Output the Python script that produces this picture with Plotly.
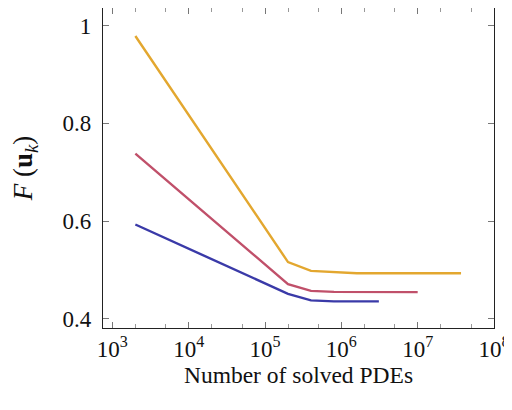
import plotly.graph_objects as go

# Data
x_orange = [2e3, 2e5, 4e5, 8e5, 1.6e6, 3.7e7]
y_orange = [0.979, 0.516, 0.498, 0.495, 0.493, 0.493]
x_red = [2e3, 2e5, 4e5, 8e5, 1e7]
y_red = [0.738, 0.471, 0.457, 0.455, 0.4545]
x_blue = [2e3, 2e5, 4e5, 8e5, 3.1e6]
y_blue = [0.593, 0.451, 0.4375, 0.4355, 0.4355]

x_tickvals = [1e3, 1e4, 1e5, 1e6, 1e7, 1e8]
x_ticktext = ["10<sup>3</sup>", "10<sup>4</sup>", "10<sup>5</sup>", "10<sup>6</sup>", "10<sup>7</sup>", "10<sup>8</sup>"]
y_tickvals = [0.4, 0.6, 0.8, 1.0]
y_ticktext = ["0.4", "0.6", "0.8", "1"]

FONT = "Liberation Serif"

fig = go.Figure()
for xs, ys, col in [(x_orange, y_orange, "#E3A72F"),
                    (x_red, y_red, "#C0506A"),
                    (x_blue, y_blue, "#3A3AA8")]:
    fig.add_trace(go.Scatter(x=xs, y=ys, mode="lines",
                             line=dict(color=col, width=2.4), showlegend=False))

fig.update_layout(
    width=504, height=384,
    margin=dict(l=95, r=18, t=0, b=64),
    plot_bgcolor="white", paper_bgcolor="white",
    font=dict(family=FONT, size=23, color="#111"),
)
fig.update_xaxes(
    type="log", range=[2.877, 8.0], automargin=False,
    tickvals=x_tickvals, ticktext=x_ticktext,
    ticklabeloverflow="allow",
    ticks="inside", ticklen=6, tickcolor="#777", tickwidth=1,
    mirror="allticks", showline=True, linecolor="#222", linewidth=1.2,
    showgrid=False, zeroline=False,
    minor=dict(ticks="inside", ticklen=3.5, tickcolor="#999", showgrid=False),
    title=dict(text="Number of solved PDEs", font=dict(size=23.5), standoff=2),
    tickfont=dict(size=23),
)
fig.update_yaxes(
    range=[0.381, 1.0364], automargin=False,
    tickvals=y_tickvals, ticktext=y_ticktext,
    ticks="inside", ticklen=6, tickcolor="#777", tickwidth=1,
    ticklabelstandoff=6,
    mirror="allticks", showline=True, linecolor="#222", linewidth=1.2,
    showgrid=False, zeroline=False,
    title=dict(text="<i>F</i> (<b>u</b><sub><i>k</i></sub>)", font=dict(size=27), standoff=22),
    tickfont=dict(size=23),
)

fig.write_html("out.html")
